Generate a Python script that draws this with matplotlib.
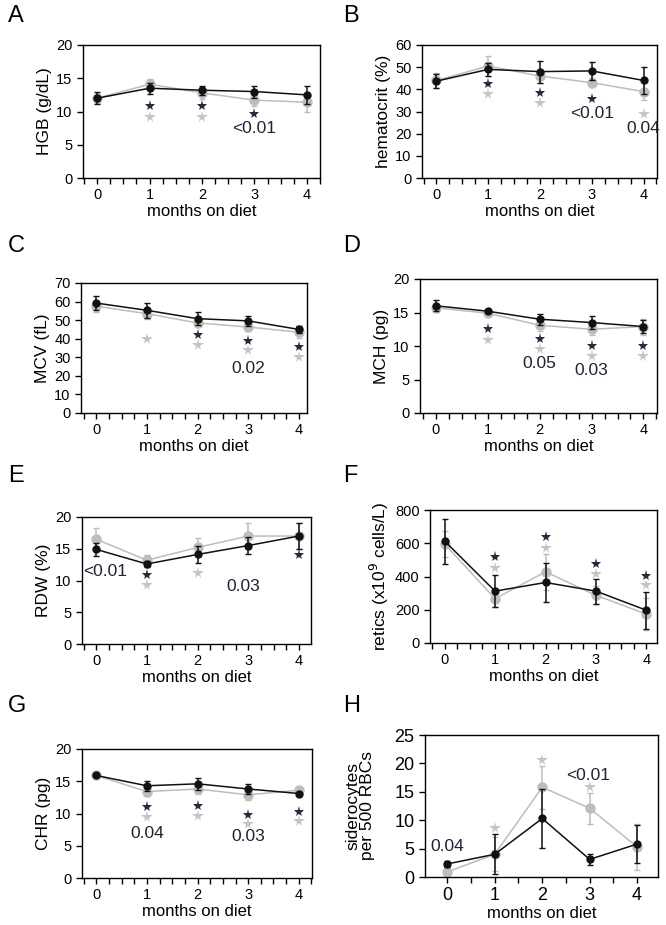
import matplotlib.pyplot as plt
import numpy as np
from matplotlib.ticker import MultipleLocator

plt.rcParams['font.family'] = ['Liberation Sans', 'DejaVu Sans']

months = [0, 1, 2, 3, 4]

# A - HGB
hgb_blk = [12.0, 13.5, 13.2, 13.0, 12.5]
hgb_blk_err = [0.9, 0.8, 0.7, 0.9, 1.3]
hgb_gry = [12.0, 14.1, 12.8, 11.7, 11.4]
hgb_gry_err = [0.7, 0.8, 0.9, 0.8, 1.4]
# B - hematocrit
hct_blk = [43.7, 49.0, 48.0, 48.3, 44.0]
hct_blk_err = [3.0, 3.0, 5.0, 4.0, 6.0]
hct_gry = [44.0, 50.5, 46.0, 43.0, 39.0]
hct_gry_err = [3.5, 4.5, 3.0, 2.0, 4.0]
# C - MCV
mcv_blk = [59.2, 55.3, 50.8, 49.6, 45.0]
mcv_blk_err = [4.0, 4.0, 3.5, 2.5, 2.0]
mcv_gry = [57.5, 53.5, 48.5, 46.3, 43.5]
mcv_gry_err = [3.0, 3.0, 2.0, 2.0, 3.0]
# D - MCH
mch_blk = [16.0, 15.2, 14.0, 13.5, 12.9]
mch_blk_err = [0.8, 0.3, 0.8, 1.0, 1.0]
mch_gry = [15.7, 14.9, 13.1, 12.5, 12.9]
mch_gry_err = [0.6, 0.4, 0.8, 0.8, 1.2]
# E - RDW
rdw_blk = [14.9, 12.6, 14.1, 15.5, 17.0]
rdw_blk_err = [1.0, 0.4, 1.3, 1.3, 2.0]
rdw_gry = [16.5, 13.2, 15.2, 17.0, 17.0]
rdw_gry_err = [1.8, 0.8, 1.5, 2.0, 2.0]
# F - retics
ret_blk = [613, 312, 364, 312, 197]
ret_blk_err = [135, 95, 115, 75, 110]
ret_gry = [595, 267, 428, 287, 173]
ret_gry_err = [80, 50, 110, 55, 95]
# G - CHR
chr_blk = [15.9, 14.3, 14.6, 13.8, 13.1]
chr_blk_err = [0.3, 0.8, 0.9, 0.8, 0.3]
chr_gry = [15.9, 13.4, 13.8, 12.9, 13.6]
chr_gry_err = [0.3, 0.7, 0.7, 0.8, 0.5]
# H - siderocytes
sid_blk = [2.3, 4.0, 10.3, 3.1, 5.8]
sid_blk_err = [0.5, 3.5, 5.2, 1.0, 3.4]
sid_gry = [0.9, 4.0, 15.8, 12.1, 5.3]
sid_gry_err = [0.5, 3.0, 3.8, 2.7, 4.0]

# significance stars: (month, y) for black and grey
stars_blk = {
    'A': [(1, 10.8), (2, 10.8), (3, 9.6)],
    'B': [(1, 42.5), (2, 38.3), (3, 35.6)],
    'C': [(2, 41.8), (3, 39.0), (4, 35.5)],
    'D': [(1, 12.5), (2, 11.1), (3, 10.0), (4, 10.0)],
    'E': [(1, 10.9), (4, 14.0)],
    'F': [(1, 518), (2, 639), (3, 474), (4, 402)],
    'G': [(1, 11.0), (2, 11.1), (3, 9.8), (4, 10.3)],
    'H': [],
}
stars_gry = {
    'A': [(1, 9.2), (2, 9.2)],
    'B': [(1, 37.8), (2, 34.0), (4, 28.8)],
    'C': [(1, 39.7), (2, 36.4), (3, 33.7), (4, 30.0)],
    'D': [(1, 10.9), (2, 9.6), (3, 8.5), (4, 8.5)],
    'E': [(1, 9.3), (2, 11.2)],
    'F': [(1, 454), (2, 573), (3, 418), (4, 348)],
    'G': [(1, 9.4), (2, 9.6), (3, 8.4), (4, 8.8)],
    'H': [(1, 8.7), (2, 20.6), (3, 15.8)],
}
pvals = {
    'A': [(3.0, 7.5, '<0.01')],
    'B': [(3.0, 29.0, '<0.01'), (4.0, 22.5, '0.04')],
    'C': [(3.0, 23.9, '0.02')],
    'D': [(2.0, 7.4, '0.05'), (3.0, 6.4, '0.03')],
    'E': [(0.18, 11.4, '<0.01'), (2.9, 9.0, '0.03')],
    'F': [],
    'G': [(1.0, 6.9, '0.04'), (3.0, 6.4, '0.03')],
    'H': [(0.0, 5.3, '0.04'), (2.97, 17.8, '<0.01')],
}

panels = [
    ('A', 'HGB (g/dL)', hgb_blk, hgb_blk_err, hgb_gry, hgb_gry_err, 20, 5),
    ('B', 'hematocrit (%)', hct_blk, hct_blk_err, hct_gry, hct_gry_err, 60, 10),
    ('C', 'MCV (fL)', mcv_blk, mcv_blk_err, mcv_gry, mcv_gry_err, 70, 10),
    ('D', 'MCH (pg)', mch_blk, mch_blk_err, mch_gry, mch_gry_err, 20, 5),
    ('E', 'RDW (%)', rdw_blk, rdw_blk_err, rdw_gry, rdw_gry_err, 20, 5),
    ('F', 'retics (x10$^9$ cells/L)', ret_blk, ret_blk_err, ret_gry, ret_gry_err, 800, 200),
    ('G', 'CHR (pg)', chr_blk, chr_blk_err, chr_gry, chr_gry_err, 20, 5),
    ('H', 'siderocytes\nper 500 RBCs', sid_blk, sid_blk_err, sid_gry, sid_gry_err, 25, 5),
]

# axes boxes in pixels: left, top, right, bottom
boxes = {
    'A': (83, 45, 320, 178), 'B': (422, 45, 657, 178),
    'C': (81, 283, 307, 413), 'D': (420, 279, 657, 413),
    'E': (82, 517, 311, 644), 'F': (430, 510, 657, 643),
    'G': (82, 749, 312, 878), 'H': (425, 735, 658, 877),
}
xlims = {'A': (-0.27, 4.25), 'B': (-0.28, 4.26), 'C': (-0.3, 4.16), 'D': (-0.3, 4.26),
         'E': (-0.28, 4.24), 'F': (-0.29, 4.21), 'G': (-0.28, 4.26), 'H': (-0.47, 4.44)}

W, H = 666, 925
fig = plt.figure(figsize=(W / 100, H / 100), dpi=100)

BLK = '#111111'
GRY = '#bdbdbd'

for name, ylab, yb, eb, yg, eg, ymax, ystep in panels:
    l, t, r, b = boxes[name]
    ax = fig.add_axes([l / W, 1 - b / H, (r - l) / W, (b - t) / H])
    ax.errorbar(months, yg, yerr=eg, color=GRY, ecolor=GRY, lw=1.1, elinewidth=1.1,
                capsize=2, marker='o', ms=6.5, zorder=2)
    ax.errorbar(months, yb, yerr=eb, color=BLK, ecolor=BLK, lw=1.1, elinewidth=1.1,
                capsize=2, marker='o', ms=5, zorder=3)
    if stars_blk[name]:
        sx, sy = zip(*stars_blk[name])
        ax.plot(sx, sy, ls='none', marker='*', ms=8, mew=0, color='#2a2a3e', zorder=4)
    if stars_gry[name]:
        sx, sy = zip(*stars_gry[name])
        ax.plot(sx, sy, ls='none', marker='*', ms=8.5, mew=0, color='#c4c4c4', zorder=4)
    for x, y, s in pvals[name]:
        ax.text(x, y, s, color='#222233', fontsize=12.5, ha='center', va='center')
    ax.set_xlim(*xlims[name])
    ax.set_ylim(0, ymax)
    ax.set_xticks(months)
    ax.set_yticks(np.arange(0, ymax + 1, ystep))
    ax.xaxis.set_minor_locator(MultipleLocator(0.5 if name == 'H' else 0.25))
    ax.tick_params(axis='both', which='both', direction='out', length=4, width=1,
                   labelsize=13 if name == 'H' else 10.5, top=False, right=False)
    ax.tick_params(axis='y', which='minor', left=False)
    for sp in ax.spines.values():
        sp.set_linewidth(1)
    ax.set_xlabel('months on diet', fontsize=12, labelpad=1)
    ax.set_ylabel(ylab, fontsize=12.5, labelpad=14 if name == 'H' else 3, linespacing=1.0)

letters = {'A': (8, 16), 'B': (343, 16), 'C': (8, 246), 'D': (343, 246),
           'E': (8, 476), 'F': (343, 476), 'G': (8, 706), 'H': (343, 706)}
for k, (x, y) in letters.items():
    fig.text(x / W, 1 - y / H, k, fontsize=17, ha='left', va='center')

fig.savefig('out.png', dpi=100)
